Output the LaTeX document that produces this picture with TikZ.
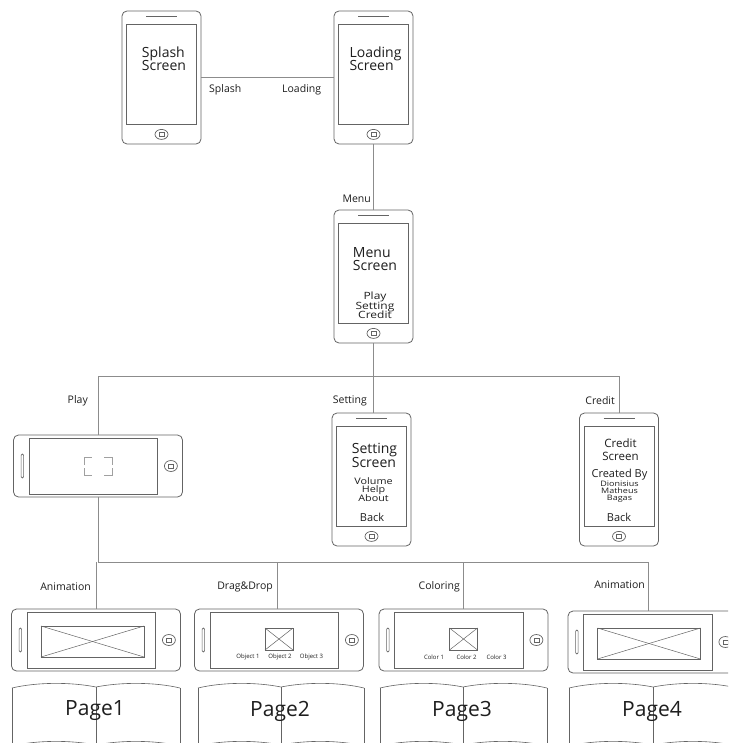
\documentclass[tikz,border=0pt]{standalone}
\usepackage{fontspec}
\setmainfont{Open Sans}
\newfontfamily\widefont[FakeStretch=1.2]{Open Sans}
\usetikzlibrary{calc}
\definecolor{outl}{RGB}{100,100,100}
\definecolor{conncol}{RGB}{140,140,140}
\definecolor{txt}{RGB}{30,30,30}
\definecolor{faint}{RGB}{160,160,160}
\tikzset{
  phoneP/.style={draw=outl, line width=0.8pt, rounded corners=5pt, minimum width=79pt, minimum height=133pt, inner sep=0pt},
  phoneL/.style={draw=outl, line width=0.8pt, rounded corners=5pt, minimum width=169pt, minimum height=62pt, inner sep=0pt},
  part/.style={draw=outl, line width=0.7pt},
  thinpart/.style={draw=outl, line width=0.5pt},
  connl/.style={draw=conncol, line width=0.8pt},
  bookline/.style={draw=outl, line width=0.6pt},
  tight/.style={execute at begin node={\lineskiplimit=-100pt\lineskip=0pt}},
  lbl/.style={font=\fontsize{10.5}{12}\selectfont, text=txt, inner sep=0pt},
  ttl/.style={font=\fontsize{14}{13}\selectfont, text=txt, inner sep=0pt, tight},
  scrtxt/.style={text=txt, inner sep=0pt, tight},
  small/.style={font=\fontsize{6}{7}\selectfont, text=txt, inner sep=0pt},
  pagetxt/.style={font=\fontsize{21}{22}\selectfont, text=txt, inner sep=0pt},
}
\newcommand\pphone[3]{%
  \node[phoneP] (#1) at (#2,#3) {};
  \draw[part] ([xshift=5pt,yshift=-14pt]#1.north west) rectangle ([xshift=-5pt,yshift=20pt]#1.south east);
  \draw[part] ([xshift=-15.5pt,yshift=-6pt]#1.north) -- ([xshift=15.5pt,yshift=-6pt]#1.north);
  \draw[part] ([yshift=10pt]#1.south) ellipse [x radius=6.5pt, y radius=5pt];
  \draw[thinpart] ([xshift=-2.5pt,yshift=8pt]#1.south) rectangle ([xshift=2.5pt,yshift=12pt]#1.south);
}
\newcommand\lphone[3]{%
  \node[phoneL] (#1) at (#2,#3) {};
  \draw[part] ([xshift=16pt,yshift=-3.5pt]#1.north west) rectangle ([xshift=-25.5pt,yshift=3.5pt]#1.south east);
  \draw[part, rounded corners=1.2pt] ([xshift=8pt,yshift=12pt]#1.west) rectangle ([xshift=10.5pt,yshift=-12pt]#1.west);
  \draw[part] ([xshift=-12pt]#1.east) ellipse [x radius=6.5pt, y radius=5.5pt];
  \draw[thinpart] ([xshift=-14.5pt,yshift=-2pt]#1.east) rectangle ([xshift=-9.5pt,yshift=2pt]#1.east);
}
\newcommand\openbook[5]{%
  \draw[bookline] (#2,688) .. controls ({#2+0.3*(#3-#2)},682) and ({#2+0.7*(#3-#2)},682) .. (#3,687)
    .. controls ({#3+0.3*(#4-#3)},682) and ({#3+0.7*(#4-#3)},682) .. (#4,688);
  \draw[bookline] (#2,746) .. controls ({#2+0.3*(#3-#2)},740) and ({#2+0.7*(#3-#2)},740) .. (#3,745)
    .. controls ({#3+0.3*(#4-#3)},740) and ({#3+0.7*(#4-#3)},740) .. (#4,746);
  \draw[bookline] (#2,688) -- (#2,760);
  \draw[bookline] (#4,688) -- (#4,760);
  \draw[bookline] (#3,687) -- (#3,760);
  \node[pagetxt] (#1) at ({#3-1},711) {#5};
}
\begin{document}
\begin{tikzpicture}[x=1pt,y=-1pt]
\useasboundingbox (0,0) rectangle (728,743);
\fill[white] (0,0) rectangle (728,743);
\clip (0,0) rectangle (728,743);

% phones
\pphone{splash}{161.5}{77.5}
\pphone{loading}{373.5}{77.5}
\pphone{menu}{373.5}{276.5}
\pphone{setting}{371.5}{479.5}
\pphone{credit}{619}{479.5}
\lphone{play}{98}{466}
\lphone{pa}{96}{640}
\lphone{pb}{279}{640}
\lphone{pc}{463.5}{640}
\lphone{pd}{652.5}{642}

% focus brackets in play screen
\draw[draw=faint, line width=0.6pt] ([xshift=-14pt,yshift=1pt]play.center) -- ([xshift=-14pt,yshift=9pt]play.center) -- ([xshift=-6pt,yshift=9pt]play.center);
\draw[draw=faint, line width=0.6pt] ([xshift=6pt,yshift=9pt]play.center) -- ([xshift=14pt,yshift=9pt]play.center) -- ([xshift=14pt,yshift=1pt]play.center);
\draw[draw=faint, line width=0.6pt] ([xshift=-14pt,yshift=-2pt]play.center) -- ([xshift=-14pt,yshift=-9pt]play.center) -- ([xshift=-6pt,yshift=-9pt]play.center);
\draw[draw=faint, line width=0.6pt] ([xshift=6pt,yshift=-9pt]play.center) -- ([xshift=14pt,yshift=-9pt]play.center) -- ([xshift=14pt,yshift=-2pt]play.center);

% image placeholders
\draw[part] ([xshift=-55pt,yshift=14pt]pa.center) rectangle ([xshift=48pt,yshift=-17pt]pa.center);
\draw[thinpart] ([xshift=-55pt,yshift=14pt]pa.center) -- ([xshift=48pt,yshift=-17pt]pa.center);
\draw[thinpart] ([xshift=-55pt,yshift=-17pt]pa.center) -- ([xshift=48pt,yshift=14pt]pa.center);
\draw[part] ([xshift=-55pt,yshift=14pt]pd.center) rectangle ([xshift=48pt,yshift=-17pt]pd.center);
\draw[thinpart] ([xshift=-55pt,yshift=14pt]pd.center) -- ([xshift=48pt,yshift=-17pt]pd.center);
\draw[thinpart] ([xshift=-55pt,yshift=-17pt]pd.center) -- ([xshift=48pt,yshift=14pt]pd.center);
\foreach \p in {pb,pc}{
  \draw[part] ([xshift=-14pt,yshift=12pt]\p.center) rectangle ([xshift=14pt,yshift=-10pt]\p.center);
  \draw[thinpart] ([xshift=-14pt,yshift=12pt]\p.center) -- ([xshift=14pt,yshift=-10pt]\p.center);
  \draw[thinpart] ([xshift=-14pt,yshift=-10pt]\p.center) -- ([xshift=14pt,yshift=12pt]\p.center);
}
\node[small] (ob1) at ([xshift=-31pt,yshift=-17pt]pb.center) {Object 1};
\node[small] (ob2) at ([xshift=1pt,yshift=-17pt]pb.center) {Object 2};
\node[small] (ob3) at ([xshift=32.5pt,yshift=-17pt]pb.center) {Object 3};
\node[small] (co1) at ([xshift=-29.5pt,yshift=-17pt]pc.center) {Color 1};
\node[small] (co2) at ([xshift=3pt,yshift=-17pt]pc.center) {Color 2};
\node[small] (co3) at ([xshift=33pt,yshift=-17pt]pc.center) {Color 3};

% screen texts
\node[ttl, align=left] (splashtxt) at (164,59) {Splash\\Screen};
\node[ttl, align=left] (loadingtxt) at (375.5,59) {Loading\\Screen};
\node[ttl, align=left] (menutxt) at (375,259) {Menu\\Screen};
\node[scrtxt, font=\widefont\fontsize{10}{9.3}\selectfont, align=center] (menuopt) at (375,305.5) {Play\\Setting\\Credit};
\node[ttl, align=left, font=\fontsize{14}{14}\selectfont] (settingtxt) at (374.5,455) {Setting\\Screen};
\node[scrtxt, font=\widefont\fontsize{9}{8.6}\selectfont, align=center] (settingopt) at (373.5,489.6) {Volume\\Help\\About};
\node[scrtxt, font=\fontsize{11}{13}\selectfont] (settingback) at (372,517) {Back};
\node[scrtxt, font=\fontsize{11.5}{13}\selectfont, align=center] (credittxt) at (620.5,450) {Credit\\Screen};
\node[scrtxt, font=\fontsize{11}{13}\selectfont] (createdby) at (619.5,475) {Created By};
\node[scrtxt, font=\widefont\fontsize{7.5}{7}\selectfont, align=center] (names) at (619.5,491.5) {Dionisius\\Matheus\\Bagas};
\node[scrtxt, font=\fontsize{11}{13}\selectfont] (creditback) at (619,517) {Back};

% connectors
\draw[connl] (splash) -- (loading);
\draw[connl] (loading) -- (menu);
\coordinate (hub) at (373.5,376);
\draw[connl] (menu) -- (hub);
\draw[connl] (hub -| play.north) -- (hub -| credit.north);
\draw[connl] (hub -| play.north) -- (play.north);
\draw[connl] (hub) -- (hub |- setting.north);
\draw[connl] (hub -| credit.north) -- (credit.north);
\coordinate (hub2) at (98,562);
\coordinate (pbtop) at ([xshift=-2pt]pb.north);
\coordinate (pdtop) at ([xshift=-4.5pt]pd.north);
\draw[connl] (play) -- (hub2);
\draw[connl] (hub2) -- (hub2 -| pdtop);
\draw[connl] (hub2 -| pa.north) -- (pa.north);
\draw[connl] (hub2 -| pbtop) -- (pbtop);
\draw[connl] (hub2 -| pc.north) -- (pc.north);
\draw[connl] (hub2 -| pdtop) -- (pdtop);

% labels
\node[lbl, anchor=west] (lsplash) at (209,90) {Splash};
\node[lbl, anchor=west] (lloading) at (282,90) {Loading};
\node[lbl, anchor=east] (lmenu) at (371,199) {Menu};
\node[lbl, anchor=east] (lplay) at (88,401) {Play};
\node[lbl, anchor=east] (lsetting) at (367,401) {Setting};
\node[lbl, anchor=east] (lcredit) at (615,401) {Credit};
\node[lbl, anchor=east] (lanim1) at (91,587) {Animation};
\node[lbl, anchor=east] (ldrag) at (273,587) {Drag\&Drop};
\node[lbl, anchor=east] (lcolor) at (460,587) {Coloring};
\node[lbl, anchor=east] (lanim2) at (645,585) {Animation};

% books
\openbook{page1}{12}{96}{180}{Page1}
\openbook{page2}{198}{281}{364}{Page2}
\openbook{page3}{380}{463}{547}{Page3}
\openbook{page4}{569}{653}{737}{Page4}
\end{tikzpicture}
\end{document}
